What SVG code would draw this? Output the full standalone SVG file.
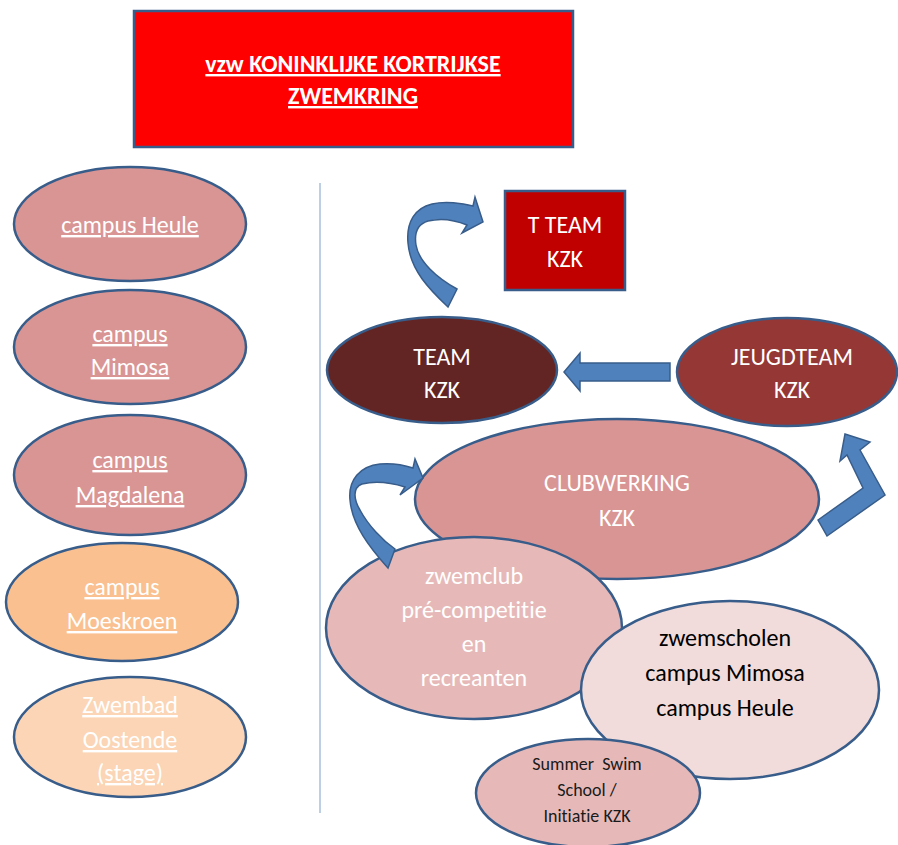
<svg xmlns="http://www.w3.org/2000/svg" width="898" height="845" viewBox="0 0 898 845">
<style>
.n{stroke:#385D8A;stroke-width:2.5}
.t{font-family:Carlito,"Open Sans","Liberation Sans",sans-serif;font-size:24px;fill:#FFFFFF;text-anchor:middle;font-variant-ligatures:none;font-feature-settings:"liga" 0,"clig" 0,"dlig" 0;white-space:pre}
.u{text-decoration:underline}
.b{font-weight:bold}
.k{fill:#000000}
.s{font-size:18px;fill:#1a1a1a}
.a{fill:#4F81BD;stroke:#385D8A;stroke-width:1.5;stroke-linejoin:miter}
</style>
<rect width="898" height="845" fill="#FFFFFF"/>
<line x1="320" y1="183" x2="320" y2="813" stroke="#A7BFDE" stroke-width="1.5"/>

<g id="title">
<rect class="n" x="134" y="11" width="439" height="136" fill="#FF0000"/>
<text class="t u b" x="353" y="72">vzw KONINKLIJKE KORTRIJKSE</text>
<text class="t u b" x="353" y="104">ZWEMKRING</text>
</g>

<g id="campus-heule">
<ellipse class="n" cx="130" cy="224" rx="116" ry="57" fill="#D99594"/>
<text class="t u" x="130" y="233">campus Heule</text>
</g>
<g id="campus-mimosa">
<ellipse class="n" cx="130" cy="347" rx="116" ry="57" fill="#D99594"/>
<text class="t u" x="130" y="342">campus</text>
<text class="t u" x="130" y="375">Mimosa</text>
</g>
<g id="campus-magdalena">
<ellipse class="n" cx="130" cy="475" rx="116" ry="60" fill="#D99594"/>
<text class="t u" x="130" y="468">campus</text>
<text class="t u" x="130" y="503">Magdalena</text>
</g>
<g id="campus-moeskroen">
<ellipse class="n" cx="122" cy="602" rx="116" ry="59" fill="#FAC090"/>
<text class="t u" x="122" y="595">campus</text>
<text class="t u" x="122" y="629">Moeskroen</text>
</g>
<g id="zwembad-oostende">
<ellipse class="n" cx="130" cy="737" rx="116" ry="60" fill="#FBD5B5"/>
<text class="t u" x="130" y="713">Zwembad</text>
<text class="t u" x="130" y="748">Oostende</text>
<text class="t u" x="130" y="781">(stage)</text>
</g>

<g id="t-team">
<rect class="n" x="505" y="191" width="120" height="99" fill="#C00000"/>
<text class="t" x="565" y="233">T TEAM</text>
<text class="t" x="565" y="267">KZK</text>
</g>
<g id="team">
<ellipse class="n" cx="442" cy="370" rx="115" ry="53" fill="#632523"/>
<text class="t" x="442" y="365">TEAM</text>
<text class="t" x="442" y="398">KZK</text>
</g>
<g id="jeugdteam">
<ellipse class="n" cx="787" cy="372" rx="110" ry="54" fill="#953735"/>
<text class="t" x="792" y="365">JEUGDTEAM</text>
<text class="t" x="792" y="398">KZK</text>
</g>
<g id="clubwerking">
<ellipse class="n" cx="617" cy="499" rx="202" ry="80" fill="#D99594"/>
<text class="t" x="617" y="491">CLUBWERKING</text>
<text class="t" x="617" y="526">KZK</text>
</g>
<g id="zwemclub">
<ellipse class="n" cx="474" cy="628" rx="148" ry="91" fill="#E6B9B8"/>
<text class="t" x="474" y="584">zwemclub</text>
<text class="t" x="474" y="618">pré-competitie</text>
<text class="t" x="474" y="652">en</text>
<text class="t" x="474" y="686">recreanten</text>
</g>
<g id="zwemscholen">
<ellipse class="n" cx="730" cy="690" rx="149" ry="89" fill="#F2DCDB"/>
<text class="t k" x="725" y="646">zwemscholen</text>
<text class="t k" x="725" y="681">campus Mimosa</text>
<text class="t k" x="725" y="716">campus Heule</text>
</g>
<g id="summer-swim">
<ellipse class="n" cx="588" cy="793" rx="112" ry="54" fill="#E6B9B8"/>
<text class="t s" x="587" y="770" xml:space="preserve">Summer  Swim</text>
<text class="t s" x="587" y="796">School /</text>
<text class="t s" x="587" y="822">Initiatie KZK</text>
</g>

<g id="connectors">
<path class="a" d="M448,307 C430,290 410,270 408,243 C406,222 415,208 432,204 C445,201 462,203 473,206 L475,197 L483,222 L462,233 L467,225 C455,220 440,218 428,221 C418,224 414,232 416,245 C419,262 437,278 457,289 Z"/>
<path class="a" d="M564,372 L580,353 L580,363 L670,363 L670,381 L580,381 L580,391 Z"/>
<path class="a" d="M388,568 C370,548 352,525 350,500 C348,480 360,466 380,464 C392,463 404,465 413,468 L415,459 L423,478 L400,495 L405,487 C392,483 375,481 362,484 C352,488 354,500 360,510 C368,525 382,540 395,549 Z"/>
<path class="a" d="M818,520 L863,488 L847,455 L840,461 L845,434 L870,442 L860,450 L885,495 L827,536 Z"/>
</g>
</svg>
